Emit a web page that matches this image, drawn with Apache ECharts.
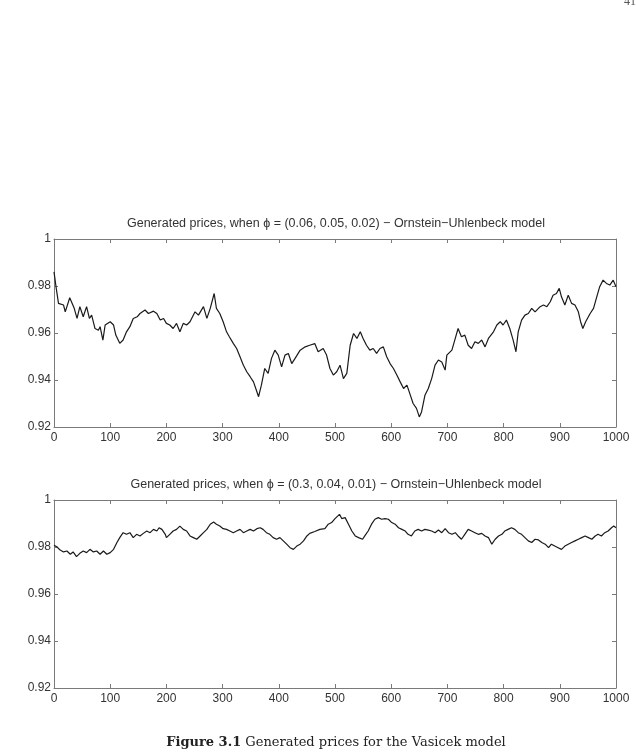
<!DOCTYPE html>
<html>
<head>
<meta charset="utf-8">
<script src="https://cdn.jsdelivr.net/npm/echarts@6/dist/echarts.min.js"></script>
<style>html,body{margin:0;padding:0;background:#fff}#c{width:636px;height:753px}</style>
</head>
<body>
<div id="c"></div>
<script>
// ---- data ----
const topTitle = 'Generated prices, when \u03d5 = (0.06, 0.05, 0.02) \u2212 Ornstein\u2212Uhlenbeck model';
const bottomTitle = 'Generated prices, when \u03d5 = (0.3, 0.04, 0.01) \u2212 Ornstein\u2212Uhlenbeck model';
const captionBold = 'Figure 3.1';
const captionText = ' Generated prices for the Vasicek model';
const pageNumber = '41';

const topT = [0,4,8,17,20,28,36,41,46,52,58,63,67,73,79,82,87,91,100,106,110,117,123,129,135,141,148,153,162,168,177,183,189,195,200,206,212,218,224,230,236,242,251,257,266,272,278,285,289,295,301,307,312,319,325,331,337,343,349,355,361,364,369,375,381,387,393,399,405,411,417,423,429,438,447,455,464,470,479,485,491,497,503,509,515,521,527,533,539,545,550,556,562,568,574,580,586,592,598,604,610,616,622,628,633,639,645,650,654,660,666,672,678,684,690,696,699,708,714,719,725,731,737,743,749,755,761,767,773,782,788,794,799,805,811,817,822,826,832,838,844,850,856,865,871,877,883,888,894,899,903,909,915,921,927,933,937,941,946,954,960,965,971,977,983,989,995,1000];
const topPrice = [0.9860,0.9790,0.9726,0.9719,0.9690,0.9750,0.9705,0.9662,0.9712,0.9669,0.9712,0.9662,0.9676,0.9619,0.9612,0.9627,0.9570,0.9634,0.9648,0.9634,0.9591,0.9556,0.9570,0.9605,0.9627,0.9662,0.9669,0.9683,0.9698,0.9683,0.9693,0.9683,0.9655,0.9662,0.9641,0.9634,0.9619,0.9641,0.9605,0.9641,0.9634,0.9648,0.9690,0.9676,0.9712,0.9662,0.9705,0.9768,0.9705,0.9683,0.9648,0.9605,0.9584,0.9556,0.9534,0.9499,0.9463,0.9435,0.9414,0.9392,0.9350,0.9329,0.9378,0.9449,0.9428,0.9492,0.9527,0.9506,0.9456,0.9506,0.9513,0.9470,0.9492,0.9527,0.9541,0.9548,0.9555,0.9520,0.9534,0.9506,0.9449,0.9421,0.9435,0.9463,0.9406,0.9428,0.9548,0.9598,0.9577,0.9605,0.9577,0.9548,0.9527,0.9534,0.9513,0.9534,0.9541,0.9499,0.9470,0.9449,0.9421,0.9392,0.9364,0.9378,0.9343,0.9300,0.9279,0.9243,0.9264,0.9335,0.9364,0.9406,0.9463,0.9485,0.9477,0.9442,0.9506,0.9527,0.9577,0.9619,0.9584,0.9591,0.9548,0.9534,0.9563,0.9556,0.9570,0.9541,0.9577,0.9605,0.9634,0.9648,0.9634,0.9655,0.9619,0.9570,0.9520,0.9605,0.9655,0.9676,0.9683,0.9705,0.9690,0.9712,0.9719,0.9712,0.9733,0.9761,0.9768,0.9790,0.9754,0.9719,0.9761,0.9726,0.9719,0.9690,0.9648,0.9619,0.9648,0.9683,0.9705,0.9747,0.9797,0.9825,0.9811,0.9804,0.9825,0.9797];

const bottomT = [0,5,11,17,23,29,34,40,46,52,58,64,70,76,82,88,94,100,106,112,117,123,129,135,141,147,153,159,165,171,177,183,187,192,198,200,206,212,218,224,230,236,242,248,254,260,266,272,278,284,289,295,301,307,313,319,325,331,337,343,349,355,361,367,372,378,384,390,396,402,408,414,420,426,432,438,444,450,455,464,473,482,488,494,500,508,512,518,524,530,536,542,549,553,559,565,571,577,583,589,595,601,607,613,619,625,630,636,642,648,654,660,666,672,678,684,690,696,702,708,714,719,725,731,737,743,749,755,761,767,773,779,785,791,797,802,808,814,820,826,832,838,844,850,856,862,868,874,880,885,891,897,903,909,915,921,927,933,939,945,951,957,963,968,974,980,986,992,996,1000];
const bottomPrice = [0.9807,0.9801,0.9787,0.9779,0.9783,0.9769,0.9779,0.9759,0.9773,0.9783,0.9776,0.9790,0.9779,0.9783,0.9769,0.9783,0.9769,0.9776,0.9790,0.9819,0.9840,0.9861,0.9854,0.9861,0.9840,0.9854,0.9847,0.9858,0.9868,0.9861,0.9875,0.9868,0.9882,0.9875,0.9854,0.9840,0.9854,0.9868,0.9875,0.9889,0.9875,0.9868,0.9847,0.9840,0.9833,0.9847,0.9861,0.9875,0.9897,0.9906,0.9897,0.9889,0.9878,0.9875,0.9868,0.9861,0.9868,0.9875,0.9861,0.9868,0.9875,0.9868,0.9878,0.9882,0.9875,0.9861,0.9854,0.9840,0.9833,0.9840,0.9826,0.9812,0.9797,0.9790,0.9804,0.9812,0.9826,0.9847,0.9858,0.9866,0.9875,0.9878,0.9897,0.9904,0.9921,0.9939,0.9921,0.9925,0.9897,0.9868,0.9847,0.9840,0.9833,0.9847,0.9868,0.9897,0.9918,0.9925,0.9918,0.9921,0.9918,0.9904,0.9897,0.9882,0.9875,0.9868,0.9854,0.9847,0.9868,0.9875,0.9868,0.9875,0.9872,0.9868,0.9861,0.9872,0.9861,0.9878,0.9861,0.9854,0.9861,0.9847,0.9833,0.9854,0.9875,0.9868,0.9861,0.9854,0.9858,0.9847,0.9840,0.9812,0.9833,0.9847,0.9854,0.9868,0.9875,0.9882,0.9875,0.9861,0.9854,0.9840,0.9826,0.9819,0.9833,0.9830,0.9819,0.9812,0.9797,0.9812,0.9804,0.9797,0.9790,0.9804,0.9812,0.9819,0.9826,0.9833,0.9840,0.9847,0.9840,0.9833,0.9847,0.9854,0.9847,0.9861,0.9868,0.9882,0.9889,0.9882];

const xMin = 0, xMax = 1000, xStep = 100;
const yMin = 0.92, yMax = 1, yStep = 0.02;

// ---- chart ----
const FONT = '"Liberation Sans", Arial, sans-serif';
const AX = '#7a7a7a';
const LABEL = '#333';
const chart = echarts.init(document.getElementById('c'), null, {renderer: 'canvas'});

const grids = [
  {left: 54, top: 239, width: 562, height: 188},
  {left: 54, top: 500, width: 562, height: 188}
];

function xAxisPair(gi) {
  const base = {gridIndex: gi, type: 'value', min: xMin, max: xMax, interval: xStep,
    axisLine: {show: true, onZero: false, lineStyle: {color: AX, width: 1}},
    axisTick: {show: true, inside: true, length: 4, lineStyle: {color: AX}},
    splitLine: {show: false}};
  return [
    Object.assign({}, base, {position: 'bottom',
      axisLabel: {show: true, margin: 5, color: LABEL, fontFamily: FONT, fontSize: 12,
        formatter: v => String(Math.round(v))}}),
    Object.assign({}, base, {position: 'top', axisLabel: {show: false}})
  ];
}
function yAxisPair(gi) {
  const base = {gridIndex: gi, type: 'value', min: yMin, max: yMax, interval: yStep,
    axisLine: {show: true, onZero: false, lineStyle: {color: AX, width: 1}},
    axisTick: {show: true, inside: true, length: 4, lineStyle: {color: AX}},
    splitLine: {show: false}};
  return [
    Object.assign({}, base, {position: 'left',
      axisLabel: {show: true, margin: 3, color: LABEL, fontFamily: FONT, fontSize: 12,
        formatter: v => String(+v.toFixed(2))}}),
    Object.assign({}, base, {position: 'right', axisLabel: {show: false}})
  ];
}

const zip = (a, b) => a.map((x, i) => [x, b[i]]);

chart.setOption({
  animation: false,
  backgroundColor: '#fff',
  grid: grids,
  xAxis: [...xAxisPair(0), ...xAxisPair(1)],
  yAxis: [...yAxisPair(0), ...yAxisPair(1)],
  series: [
    {type: 'line', xAxisIndex: 0, yAxisIndex: 0, data: zip(topT, topPrice), showSymbol: false,
      lineStyle: {color: '#1a1a1a', width: 1.2}},
    {type: 'line', xAxisIndex: 2, yAxisIndex: 2, data: zip(bottomT, bottomPrice), showSymbol: false,
      lineStyle: {color: '#1a1a1a', width: 1.2}}
  ],
  graphic: [
    {type: 'text', x: 336, y: 224, style: {text: topTitle, font: '12.5px ' + FONT, fill: '#333', align: 'center', verticalAlign: 'middle'}},
    {type: 'text', x: 336, y: 485, style: {text: bottomTitle, font: '12.5px ' + FONT, fill: '#333', align: 'center', verticalAlign: 'middle'}},
    {type: 'text', x: 336, y: 743, style: {
      text: '{b|' + captionBold + '}{n|' + captionText + '}', align: 'center', verticalAlign: 'middle',
      rich: {
        b: {font: 'bold 13px "DejaVu Serif", "Liberation Serif", serif', fill: '#222'},
        n: {font: '13px "DejaVu Serif", "Liberation Serif", serif', fill: '#222'}
      }}},
    {type: 'text', x: 636, y: 2, style: {text: pageNumber, font: '12px "Liberation Serif", serif', fill: '#555', align: 'right', verticalAlign: 'middle'}}
  ]
});
</script>
</body>
</html>
